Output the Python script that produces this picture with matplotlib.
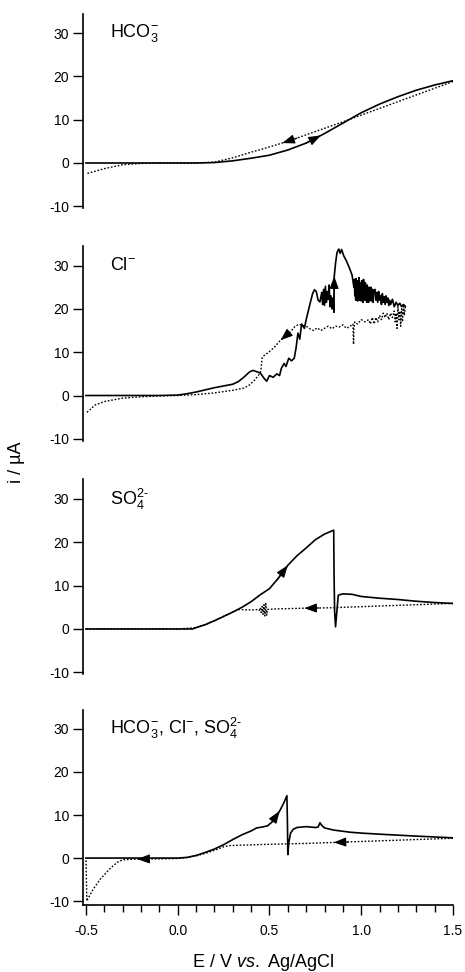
import numpy as np
import matplotlib
matplotlib.use('Agg')
import matplotlib.pyplot as plt

plt.rcParams['font.family'] = ['Liberation Sans', 'DejaVu Sans']
plt.rcParams['mathtext.fontset'] = 'custom'
plt.rcParams['mathtext.rm'] = 'Liberation Sans'
plt.rcParams['mathtext.it'] = 'Liberation Sans:italic'
plt.rcParams['axes.unicode_minus'] = False

# --- data (E / V vs Ag/AgCl, i / uA) ---
# panel 1: HCO3-
hco3_fwd_E = [-0.5, -0.3, -0.1, 0.1, 0.2, 0.3, 0.4, 0.5, 0.6, 0.7, 0.8, 0.9, 1.0, 1.1, 1.2, 1.3, 1.4, 1.5]
hco3_fwd_i = [0, 0, 0, 0, 0.1, 0.5, 1.1, 1.8, 3.0, 4.6, 6.8, 9.2, 11.6, 13.6, 15.3, 16.8, 18.0, 19.0]
hco3_rev_E = [1.5, 1.3, 1.1, 0.9, 0.7, 0.6, 0.5, 0.4, 0.3, 0.2, 0.1, 0.0, -0.1, -0.2, -0.3, -0.4, -0.5]
hco3_rev_i = [18.8, 15.7, 12.6, 9.5, 6.5, 5.0, 3.7, 2.5, 1.2, 0.2, 0, 0, 0, -0.1, -0.4, -1.3, -2.5]

# panel 2: Cl-
cl_fwd_E = [-0.5, -0.3, -0.1, 0.0, 0.05, 0.1, 0.15, 0.2, 0.25, 0.3, 0.33, 0.36, 0.39, 0.41, 0.43,
            0.45, 0.47, 0.485, 0.50, 0.52, 0.54, 0.555, 0.565, 0.58, 0.59, 0.605, 0.62, 0.635, 0.645,
            0.655, 0.665, 0.675, 0.69, 0.70, 0.72, 0.735, 0.745, 0.755, 0.765, 0.775, 0.785, 0.79,
            0.795, 0.80, 0.805, 0.81, 0.815, 0.82, 0.825, 0.83, 0.835, 0.84, 0.845, 0.851, 0.853,
            0.86, 0.868, 0.878, 0.885, 0.893, 0.905, 0.92, 0.935, 0.95, 0.96,
            0.9625, 0.965, 0.9675, 0.97, 0.9725, 0.975, 0.9775, 0.98, 0.9825, 0.985, 0.9875,
            0.99, 0.9925, 0.995, 0.9975, 1.0, 1.0025, 1.005, 1.0075, 1.01, 1.0125, 1.015, 1.0175,
            1.02, 1.0225, 1.025, 1.0275, 1.03, 1.0325, 1.035, 1.0375, 1.04, 1.0425, 1.045, 1.0475,
            1.05, 1.0525, 1.055, 1.0575, 1.06, 1.0625, 1.065, 1.0675,
            1.075, 1.08, 1.085, 1.09, 1.095, 1.10, 1.105, 1.11, 1.115, 1.12, 1.125, 1.13, 1.135,
            1.14, 1.145, 1.15, 1.155, 1.16, 1.17, 1.18, 1.19, 1.20, 1.21, 1.22, 1.23, 1.24]
cl_fwd_i = [0, 0, 0, 0.1, 0.4, 0.8, 1.3, 1.8, 2.2, 2.6, 3.2, 4.2, 5.4, 5.8, 5.5,
            5.2, 4.0, 3.3, 4.6, 4.2, 5.0, 4.6, 6.3, 7.4, 6.7, 8.6, 8.0, 8.6, 11.0,
            14.4, 13.0, 16.5, 15.5, 17.5, 21.0, 23.5, 24.4, 24.0, 22.0, 21.6, 23.8, 21.0,
            24.5, 20.8, 25.2, 21.5, 24.0, 22.2, 25.5, 20.5, 23.0, 20.0, 22.5, 19.2, 27.5,
            30.5, 33.0, 33.8, 32.8, 33.7, 32.2, 31.0, 29.5, 27.8, 25.0,
            26.8, 23.0, 26.0, 22.0, 27.0, 23.5, 26.5, 21.8, 25.5, 22.5, 27.2,
            22.0, 26.0, 23.0, 25.0, 21.8, 26.5, 22.5, 25.5, 21.5, 26.8, 23.0, 25.0,
            22.0, 26.0, 22.5, 24.5, 21.5, 25.5, 22.0, 24.0, 21.5, 25.0, 22.0, 24.5,
            22.5, 25.0, 21.8, 24.0, 22.5, 24.5, 21.5, 23.5,
            24.5, 22.0, 23.8, 21.5, 24.0, 22.0, 23.0, 21.0, 23.5, 21.5, 22.8, 21.0, 23.0,
            21.5, 22.5, 20.8, 22.0, 21.0, 22.2, 20.5, 21.5, 20.8, 21.3, 20.5, 21.0, 20.6]
cl_rev_E = [1.24, 1.235, 1.23, 1.225, 1.22, 1.215, 1.21, 1.205, 1.20, 1.195, 1.19, 1.185, 1.18,
            1.17, 1.16, 1.15, 1.14, 1.13, 1.12, 1.11, 1.10, 1.09, 1.08, 1.07, 1.06, 1.05, 1.04,
            1.02, 1.0, 0.98, 0.965, 0.96, 0.958, 0.955, 0.94, 0.92, 0.90, 0.88, 0.86, 0.84,
            0.82, 0.80, 0.78, 0.76, 0.74, 0.72, 0.70, 0.68, 0.66, 0.64, 0.62, 0.60, 0.575, 0.55,
            0.53, 0.51, 0.49, 0.47, 0.46, 0.455, 0.45, 0.42, 0.39, 0.36, 0.3, 0.2, 0.1, 0.0,
            -0.1, -0.2, -0.3, -0.4, -0.45, -0.5]
cl_rev_i = [20.5, 18.5, 21.0, 17.0, 20.0, 16.0, 19.5, 17.5, 20.5, 15.5, 19.0, 17.0, 19.5,
            18.0, 19.0, 17.5, 19.0, 18.0, 19.0, 17.5, 18.5, 17.0, 18.0, 16.5, 18.0, 16.5, 17.5,
            17.0, 17.5, 16.5, 17.0, 15.5, 11.8, 16.5, 16.0, 15.5, 16.3, 15.8, 16.0, 15.4,
            16.0, 15.5, 15.0, 15.6, 15.0, 15.4, 16.0, 16.2, 16.4, 16.0, 15.0, 14.2, 13.4, 12.3,
            11.3, 10.5, 9.8, 9.2, 8.7, 6.5, 5.2, 3.6, 2.4, 1.7, 1.2, 0.6, 0.2, 0.0,
            -0.1, -0.3, -0.6, -1.4, -2.2, -4.1]

# panel 3: SO4 2-
so4_fwd_E = [-0.5, -0.2, 0.0, 0.08, 0.1, 0.15, 0.2, 0.25, 0.3, 0.35, 0.4, 0.45, 0.5, 0.55, 0.6,
             0.65, 0.7, 0.75, 0.8, 0.850, 0.852, 0.855, 0.860, 0.866, 0.875, 0.9, 0.95, 1.0, 1.1,
             1.2, 1.3, 1.4, 1.5]
so4_fwd_i = [0, 0, 0, 0, 0.3, 1.0, 1.9, 2.9, 3.9, 5.0, 6.3, 7.9, 9.3, 11.8, 14.7,
             16.9, 18.7, 20.6, 21.9, 22.8, 12.0, 4.0, 0.5, 3.5, 7.8, 8.1, 8.0, 7.5, 7.1,
             6.8, 6.4, 6.1, 5.9]
so4_rev_E = [1.5, 1.3, 1.1, 0.9, 0.85, 0.7, 0.6, 0.52, 0.49, 0.485, 0.48, 0.475, 0.47, 0.465,
             0.46, 0.455, 0.45, 0.445, 0.44, 0.41, 0.385, 0.33, 0.3, 0.25, 0.2, 0.15, 0.1, 0.0,
             -0.2, -0.5]
so4_rev_i = [5.9, 5.6, 5.3, 5.0, 4.9, 4.8, 4.7, 4.6, 4.5, 3.2, 5.9, 3.0, 5.6, 3.4,
             5.2, 3.8, 4.9, 4.3, 4.5, 4.4, 4.4, 4.5, 3.9, 2.9, 1.9, 1.0, 0.3, 0,
             0, 0]

# panel 4: HCO3-, Cl-, SO4 2-
mix_fwd_E = [-0.5, -0.2, 0.0, 0.05, 0.1, 0.15, 0.2, 0.25, 0.3, 0.35, 0.4, 0.43, 0.46, 0.49,
             0.52, 0.54, 0.56, 0.58, 0.595, 0.598, 0.60, 0.605, 0.615, 0.63, 0.65, 0.7, 0.75,
             0.765, 0.775, 0.785, 0.8, 0.85, 0.94, 1.0, 1.12, 1.3, 1.5]
mix_fwd_i = [0, 0, 0, 0.15, 0.6, 1.3, 2.1, 3.1, 4.3, 5.4, 6.3, 7.0, 7.2, 7.5,
             8.6, 9.8, 11.3, 13.0, 14.5, 8.0, 0.8, 3.5, 5.8, 6.7, 7.1, 7.3, 7.1,
             7.2, 8.2, 7.6, 7.0, 6.5, 6.0, 5.8, 5.5, 5.1, 4.7]
mix_rev_E = [1.5, 1.3, 1.1, 0.9, 0.7, 0.5, 0.35, 0.28, 0.25, 0.2, 0.15, 0.1, 0.05, 0.0, -0.1,
             -0.2, -0.3, -0.33, -0.37, -0.42, -0.46, -0.49, -0.495, -0.5]
mix_rev_i = [4.6, 4.3, 4.0, 3.7, 3.4, 3.2, 3.0, 2.9, 2.6, 1.8, 1.1, 0.5, 0.1, -0.1, -0.2,
             -0.2, -0.4, -1.0, -2.5, -4.8, -7.2, -9.5, -10.0, 0.0]

labels = [r'HCO$_3^{-}$', r'Cl$^{-}$', r'SO$_4^{2\text{-}}$',
          r'HCO$_3^{-}$, Cl$^{-}$, SO$_4^{2\text{-}}$']
yticks = [-10, 0, 10, 20, 30]

fig = plt.figure(figsize=(4.65, 9.72), dpi=100)

bottoms = [0.7855, 0.5463, 0.3061, 0.0694]
axes = [fig.add_axes([0.1785, b, 0.7957, 0.2006]) for b in bottoms]

arrow_style = dict(arrowstyle='-|>,head_length=0.75,head_width=0.28',
                   color='k', lw=0.8, shrinkA=0, shrinkB=0)


def head(ax, E, I, e_tip, de):
    # arrow head sitting on a curve, pointing in the sweep direction
    E = np.asarray(E, float)
    I = np.asarray(I, float)
    o = np.argsort(E, kind='stable')
    y1 = np.interp(e_tip, E[o], I[o])
    y0 = np.interp(e_tip - de, E[o], I[o])
    ax.annotate('', xy=(e_tip, y1), xytext=(e_tip - de, y0), arrowprops=arrow_style)


solid = dict(color='k', lw=1.2)
dotted = dict(color='k', lw=1.0, linestyle=(0, (1.2, 1.3)))

data = [(hco3_fwd_E, hco3_fwd_i, hco3_rev_E, hco3_rev_i),
        (cl_fwd_E, cl_fwd_i, cl_rev_E, cl_rev_i),
        (so4_fwd_E, so4_fwd_i, so4_rev_E, so4_rev_i),
        (mix_fwd_E, mix_fwd_i, mix_rev_E, mix_rev_i)]

for n, (ax, (fE, fi, rE, ri)) in enumerate(zip(axes, data)):
    ax.plot(rE, ri, **dotted)
    ax.plot(fE, fi, **solid)
    ax.set_xlim(-0.516, 1.5)
    ax.set_ylim(-10.8 if n == 3 else -10.5, 34.5)
    ax.set_yticks(yticks)
    for s in ['top', 'right']:
        ax.spines[s].set_visible(False)
    ax.spines['left'].set_linewidth(1.2)
    ax.tick_params(axis='y', direction='out', length=7, width=1.0, labelsize=10, pad=3)
    ax.text(-0.37, 30, labels[n], fontsize=13, va='center', ha='left')
    if n < 3:
        ax.spines['bottom'].set_visible(False)
        ax.set_xticks([])
    else:
        ax.spines['bottom'].set_linewidth(1.2)
        ax.set_xticks([-0.5, 0.0, 0.5, 1.0, 1.5])
        ax.set_xticklabels(['-0.5', '0.0', '0.5', '1.0', '1.5'])
        ax.set_xticks(np.arange(-0.5, 1.51, 0.1), minor=True)
        ax.tick_params(axis='x', which='major', direction='out', length=7, width=1.0,
                       labelsize=10, pad=7)
        ax.tick_params(axis='x', which='minor', direction='out', length=5, width=1.0)

# arrows marking sweep direction
head(axes[0], hco3_fwd_E, hco3_fwd_i, 0.78, 0.08)
head(axes[0], hco3_rev_E, hco3_rev_i, 0.57, -0.08)
k = cl_fwd_E.index(0.853)
axes[1].annotate('', xy=(cl_fwd_E[k], cl_fwd_i[k]),
                 xytext=(cl_fwd_E[k - 1], cl_fwd_i[k - 1]), arrowprops=arrow_style)
head(axes[1], cl_rev_E, cl_rev_i, 0.56, -0.04)
head(axes[2], so4_fwd_E, so4_fwd_i, 0.6, 0.06)
head(axes[2], so4_rev_E, so4_rev_i, 0.69, -0.08)
head(axes[3], mix_fwd_E, mix_fwd_i, 0.555, 0.04)
head(axes[3], mix_rev_E, mix_rev_i, 0.85, -0.08)
head(axes[3], mix_rev_E, mix_rev_i, -0.22, -0.06)

fig.text(0.035, 0.524, 'i / µA', rotation=90, fontsize=13, ha='center', va='center')
fig.text(263 / 465, 1 - 962 / 972, r'E / V $\mathit{vs.}$ Ag/AgCl', fontsize=13,
         ha='center', va='center')

fig.savefig('out.png', dpi=100)
